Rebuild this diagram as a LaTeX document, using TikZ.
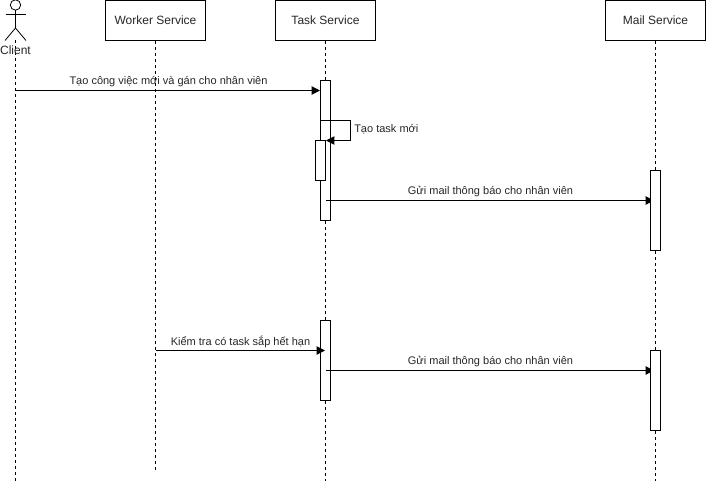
\documentclass[tikz,border=0pt]{standalone}
\usepackage{fontspec}
\setmainfont{Liberation Sans}
\usetikzlibrary{arrows.meta}
\tikzset{
  px/.style={x=0.75pt,y=-0.75pt},
  headbox/.style={draw=black,fill=white,line width=0.75pt,minimum width=75pt,minimum height=30pt,inner sep=0pt,font=\fontsize{9}{11}\selectfont,text=black!85},
  actbox/.style={draw=black,fill=white,line width=0.75pt,minimum width=7.5pt,inner sep=0pt},
  lifeline/.style={draw=black,line width=0.75pt,dash pattern=on 2.25pt off 2.25pt},
  msg/.style={draw=black,line width=0.75pt,-{Triangle[length=6.2pt,width=6.2pt]}},
  lab/.style={inner sep=0pt,font=\fontsize{8.25}{10}\selectfont,text=black!85},
  actorline/.style={draw=black,line width=0.6pt}
}
\begin{document}
\begin{tikzpicture}[px]
\useasboundingbox (0,0) rectangle (706,481);
% lifelines
\coordinate (cTop) at (15.5,40);
\coordinate (cBot) at (15.5,481);
\coordinate (wBot) at (155.5,470);
\coordinate (tBot) at (325.5,481);
\coordinate (mBot) at (655.5,481);
\node[headbox] (worker) at (155.5,20.5) {Worker Service};
\node[headbox] (task) at (325.5,20.5) {Task Service};
\node[headbox] (mail) at (655.5,20.5) {Mail Service};
\draw[lifeline] (cTop) -- (cBot);
\draw[lifeline] (worker.south) -- (wBot);
\draw[lifeline] (task.south) -- (tBot);
\draw[lifeline] (mail.south) -- (mBot);
% actor
\coordinate (neck) at (15.5,10.5);
\coordinate (hip) at (15.5,28);
\draw[actorline] (15.5,5) circle[radius=5.2];
\draw[actorline] (neck) -- (hip);
\draw[actorline] (5.5,14) -- (25.5,14);
\draw[actorline] (5,40.5) -- (hip) -- (26,40.5);
\node[lab,font=\fontsize{9}{11}\selectfont] (client) at (15.5,50) {Client};
% activations on the task lifeline
\node[actbox,minimum height=105pt] (a1) at (325.5,150.5) {};
\coordinate (selfA) at (320.5,120.5);
\coordinate (selfB) at (350.5,120.5);
\coordinate (selfC) at (350.5,140.5);
\coordinate (selfD) at (326,140.5);
\node[actbox,minimum height=30pt] (a2) at (320.5,160.5) {};
\draw[draw=black,line width=0.75pt] (selfA) -- (selfB) -- (selfC);
\draw[msg] (selfC) -- (selfD);
\node[actbox,minimum height=60pt] (a3) at (325.5,360.5) {};
% messages
\coordinate (s1) at (15.5,90.5);
\coordinate (e1) at (320,90.5);
\draw[msg] (s1) -- (e1);
\node[lab] (l1) at (168.5,81.7) {Tạo công việc mới và gán cho nhân viên};
\node[lab,anchor=west] (l2) at (354,129) {Tạo task mới};
\coordinate (s3) at (325.5,200.5);
\coordinate (e3) at (654,200.5);
\draw[msg] (s3) -- (e3);
\node[lab] (l3) at (490.5,191.7) {Gửi mail thông báo cho nhân viên};
\coordinate (s4) at (155.5,350.5);
\coordinate (e4) at (325,350.5);
\draw[msg] (s4) -- (e4);
\node[lab] (l4) at (240.5,341.7) {Kiểm tra có task sắp hết hạn};
\coordinate (s5) at (325.5,370.5);
\coordinate (e5) at (654,370.5);
\draw[msg] (s5) -- (e5);
\node[lab] (l5) at (490.5,361.7) {Gửi mail thông báo cho nhân viên};
% activations on the mail lifeline, over the arrow tips
\node[actbox,minimum height=60pt] (m1) at (655.5,210.5) {};
\node[actbox,minimum height=60pt] (m2) at (655.5,390.5) {};
\end{tikzpicture}
\end{document}
